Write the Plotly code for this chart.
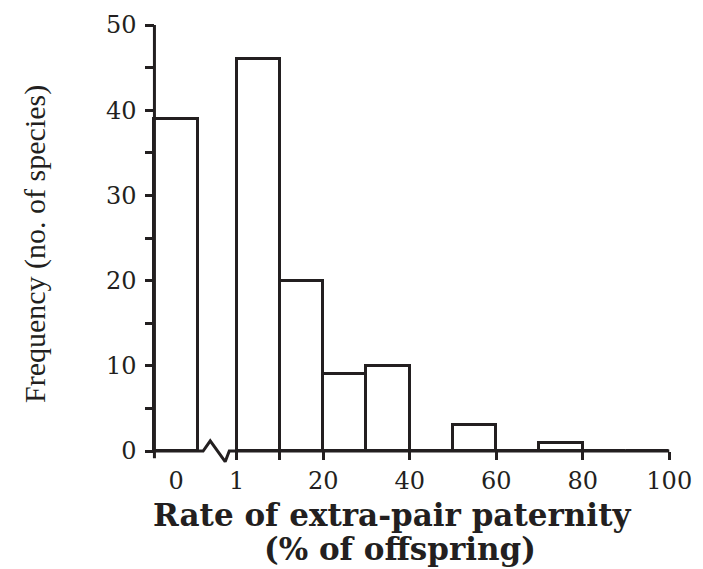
import plotly.graph_objects as go

# Frequency of extra-pair paternity rates across species.
# The "0" bin sits left of the axis break; the remaining bins are 10 %-wide.
BIN_LABELS = ["0", "1-10", "10-20", "20-30", "30-40", "40-50",
              "50-60", "60-70", "70-80", "80-90", "90-100"]
BIN_CENTERS = [-14, 5, 15, 25, 35, 45, 55, 65, 75, 85, 95]
SPECIES_COUNT = [39, 46, 20, 9, 10, 0, 3, 0, 1, 0, 0]
BIN_WIDTH = 10

X_TICK_VALUES = [0, 10, 20, 40, 60, 80, 100]
X_TICK_TEXT = ["1", "", "20", "40", "60", "80", "100"]
ZERO_TICK_VALUES = [-14]
ZERO_TICK_TEXT = ["0"]
Y_TICK_VALUES = [0, 10, 20, 30, 40, 50]
Y_MINOR_VALUES = [5, 15, 25, 35, 45]

X_TITLE_1 = "Rate of extra-pair paternity"
X_TITLE_2 = "(% of offspring)"
Y_TITLE = "Frequency (no. of species)"

# ---- styling / layout constants ----
INK = "#231f20"
LW = 3
XR = [-20.95, 105.95]
YR = [-2.11, 50.94]
Y_AXIS_AT = -19          # x value where the vertical axis is drawn
TICK_FONT = dict(family="DejaVu Serif", size=24, color=INK)
X_TITLE_FONT = dict(family="DejaVu Serif", size=31, color=INK)

x_pos = (0 - YR[0]) / (YR[1] - YR[0])
y_pos = (Y_AXIS_AT - XR[0]) / (XR[1] - XR[0])

fig = go.Figure()

fig.add_bar(
    x=BIN_CENTERS, y=SPECIES_COUNT, width=BIN_WIDTH,
    customdata=BIN_LABELS,
    marker=dict(color="white", line=dict(color=INK, width=LW)),
    hovertemplate="%{customdata}%%: %{y}<extra></extra>",
    xaxis="x", yaxis="y", showlegend=False,
)

# Horizontal axis line with a zig-zag break between the "0" bin and the rest
fig.add_scatter(
    x=[Y_AXIS_AT, -7.75, -6.1, -2.65, -1.7, 100],
    y=[0, 0, 1.2, -1.25, 0, 0],
    mode="lines", line=dict(color=INK, width=LW),
    hoverinfo="skip", showlegend=False,
    xaxis="x2", yaxis="y",
)

# Vertical axis line
fig.add_shape(type="line", xref="x", yref="y",
              x0=Y_AXIS_AT, x1=Y_AXIS_AT, y0=-0.85, y1=50,
              line=dict(color=INK, width=LW))

axis_common = dict(showgrid=False, zeroline=False, showline=False, fixedrange=True)

fig.update_layout(
    width=703, height=569,
    margin=dict(l=146, r=8, t=17, b=100),
    paper_bgcolor="white", plot_bgcolor="white",
    bargap=0,
    xaxis=dict(
        **axis_common, anchor="free", position=x_pos, range=XR,
        tickmode="array", tickvals=X_TICK_VALUES, ticktext=X_TICK_TEXT,
        ticks="outside", ticklen=8, tickwidth=LW, tickcolor=INK,
        tickfont=TICK_FONT,
    ),
    xaxis2=dict(
        **axis_common, anchor="free", position=x_pos, range=XR,
        overlaying="x", side="bottom",
        tickmode="array", tickvals=ZERO_TICK_VALUES, ticktext=ZERO_TICK_TEXT,
        ticks="outside", ticklen=8, tickwidth=LW, tickcolor="rgba(0,0,0,0)",
        tickfont=TICK_FONT,
    ),
    yaxis=dict(
        **axis_common, anchor="free", position=y_pos, range=YR,
        tickmode="array", tickvals=Y_TICK_VALUES,
        ticks="outside", ticklen=9, tickwidth=LW, tickcolor=INK,
        ticklabelstandoff=4,
        minor=dict(tickmode="array", tickvals=Y_MINOR_VALUES, ticks="outside",
                   ticklen=9, tickwidth=LW, tickcolor=INK),
        tickfont=TICK_FONT,
    ),
    annotations=[
        dict(text=f"<b>{X_TITLE_1}</b>", xref="paper", yref="paper",
             x=0.448, y=-0.102, xanchor="center", yanchor="middle",
             showarrow=False, font=X_TITLE_FONT),
        dict(text=f"<b>{X_TITLE_2}</b>", xref="paper", yref="paper",
             x=0.463, y=-0.178, xanchor="center", yanchor="middle",
             showarrow=False, font=X_TITLE_FONT),
        dict(text=Y_TITLE, xref="paper", yref="paper",
             x=-0.202, y=0.498, xanchor="center", yanchor="middle",
             textangle=-90, showarrow=False,
             font=dict(family="Liberation Serif", size=30, color=INK)),
    ],
)

fig.write_html("out.html")
